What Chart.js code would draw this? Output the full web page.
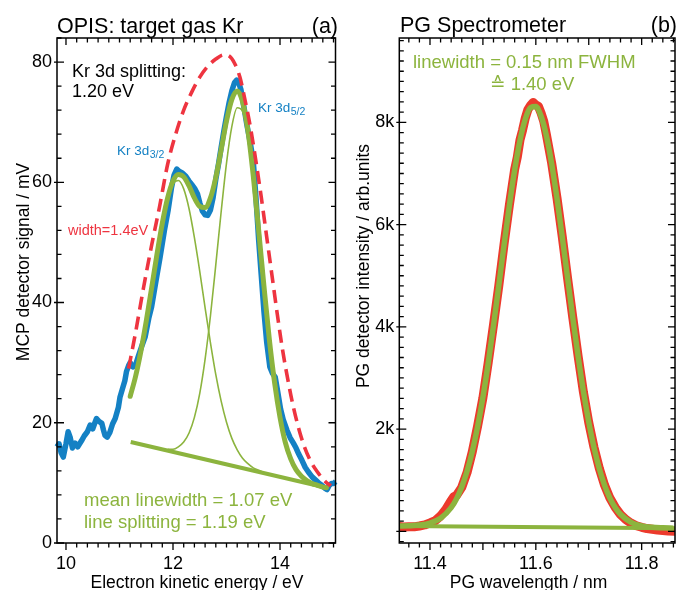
<!DOCTYPE html>
<html>
<head>
<meta charset="utf-8">
<script src="https://cdn.jsdelivr.net/npm/chart.js@4.4.1/dist/chart.umd.min.js"></script>
<style>
  html, body { margin: 0; padding: 0; background: #fff; }
  #wrap { position: relative; width: 677px; height: 590px; overflow: hidden; background: #fff; }
  canvas { position: absolute; top: 0; }
  #opis { left: 0; }
  #pg { left: 340px; }
</style>
</head>
<body>
<div id="wrap">
  <canvas id="opis" width="340" height="590"></canvas>
  <canvas id="pg" width="337" height="590"></canvas>
</div>
<script>
// ---------- (a) OPIS photoelectron spectrum of Kr 3d ----------
const opisEnergy = [9.83, 9.87, 9.91, 9.95, 10.0, 10.04, 10.08, 10.12, 10.17, 10.22, 10.29, 10.34, 10.4, 10.45,
  10.5, 10.54, 10.57, 10.62, 10.67, 10.7, 10.73, 10.77, 10.82, 10.87, 10.92, 10.98, 11.01, 11.05, 11.1, 11.13,
  11.17, 11.2, 11.25, 11.3, 11.35, 11.41, 11.48, 11.55, 11.6, 11.68, 11.76, 11.84, 11.91, 11.97, 12.02, 12.07,
  12.12, 12.18, 12.24, 12.3, 12.36, 12.41, 12.46, 12.5, 12.55, 12.6, 12.65, 12.7, 12.75, 12.8, 12.85, 12.9,
  12.95, 13.0, 13.05, 13.1, 13.15, 13.19, 13.23, 13.27, 13.32, 13.38, 13.44, 13.5, 13.55, 13.6, 13.65, 13.7,
  13.75, 13.81, 13.86, 13.91, 13.96, 14.01, 14.06, 14.13, 14.19, 14.25, 14.3, 14.35, 14.41, 14.47, 14.53,
  14.6, 14.66, 14.72, 14.78, 14.84, 14.88, 14.92, 14.96, 15.0, 15.04, 15.09];
const opisSignal = [16.0, 16.5, 15.0, 14.3, 16.5, 18.5, 17.5, 15.8, 16.6, 16.0, 17.0, 17.8, 18.5, 19.6,
  19.0, 20.0, 20.7, 20.2, 19.9, 18.8, 17.9, 17.6, 18.4, 19.8, 20.7, 22.6, 24.3, 25.5, 27.0, 28.5,
  29.5, 30.0, 29.3, 29.6, 31.0, 32.6, 34.3, 37.5, 39.3, 43.5, 47.6, 52.0, 55.4, 59.0, 61.2, 62.2,
  61.8, 61.5, 61.0, 60.2, 59.5, 58.9, 58.0, 56.6, 55.2, 54.6, 54.5, 55.4, 57.5, 60.5, 63.0, 65.8,
  68.5, 71.0, 73.3, 75.2, 76.6, 77.0, 76.5, 75.4, 72.8, 69.6, 66.8, 63.5, 57.5, 50.5, 44.5, 38.5,
  33.5, 29.3, 28.2, 27.6, 25.0, 22.3, 20.5, 18.75, 17.5, 16.6, 15.8, 14.8, 13.75, 12.6, 11.8,
  11.0, 10.5, 10.0, 9.6, 9.1, 8.9, 9.6, 9.9, 9.9, 10.2, 10.1];

// two-line fit: sum, the 3d3/2 and 3d5/2 components, linear background
const fitEnergy = [11.2, 11.3, 11.4, 11.5, 11.6, 11.7, 11.8, 11.9, 12.0, 12.1, 12.2, 12.3, 12.4, 12.5, 12.6,
  12.7, 12.8, 12.9, 13.0, 13.1, 13.2, 13.3, 13.4, 13.5, 13.6, 13.7, 13.8, 13.9, 14.0, 14.1, 14.2, 14.3,
  14.4, 14.5, 14.6, 14.7, 14.8, 14.87];
const fitSignal = [24.4, 27.7, 31.9, 36.9, 42.4, 48.0, 53.2, 57.4, 60.2, 61.3, 60.9, 59.4, 57.4, 56.0, 55.8,
  57.4, 60.8, 65.4, 70.2, 73.8, 75.2, 73.4, 68.6, 61.1, 52.1, 42.7, 33.9, 26.6, 20.9, 16.7, 14.0, 12.2,
  11.1, 10.4, 9.9, 9.6, 9.3, 9.2];
const d32Energy = [11.2, 11.3, 11.4, 11.5, 11.6, 11.7, 11.8, 11.9, 12.0, 12.1, 12.2, 12.3, 12.4, 12.5, 12.6,
  12.7, 12.8, 12.9, 13.0, 13.1, 13.2, 13.3, 13.4, 13.5, 13.6, 13.7, 13.8];
const d32Signal = [24.4, 27.7, 31.9, 36.9, 42.4, 48.0, 53.1, 57.2, 59.7, 60.3, 58.9, 55.6, 50.8, 45.2, 39.1,
  33.3, 28.0, 23.6, 20.1, 17.4, 15.5, 14.1, 13.2, 12.5, 12.1, 11.7, 11.4];
const d52Energy = [11.9, 12.0, 12.1, 12.2, 12.3, 12.4, 12.5, 12.6, 12.7, 12.8, 12.9, 13.0, 13.1, 13.2, 13.3,
  13.4, 13.5, 13.6, 13.7, 13.8, 13.9, 14.0, 14.1, 14.2, 14.3, 14.4, 14.5, 14.6, 14.7, 14.8];
const d52Signal = [15.6, 15.6, 16.0, 16.8, 18.3, 20.9, 24.9, 30.6, 37.8, 46.3, 55.1, 63.2, 69.3, 72.4, 71.8,
  67.6, 60.6, 51.8, 42.6, 33.9, 26.6, 20.9, 16.7, 14.0, 12.2, 11.1, 10.4, 9.9, 9.6, 9.3];
const bgEnergy = [11.21, 14.87];
const bgSignal = [16.8, 9.2];

// expected profile for a 1.4 eV photon bandwidth
const broadEnergy = [11.17, 11.3, 11.45, 11.6, 11.75, 11.9, 12.05, 12.2, 12.35, 12.5, 12.65, 12.8, 12.95,
  13.05, 13.15, 13.25, 13.35, 13.45, 13.55, 13.65, 13.75, 13.85, 13.95, 14.05, 14.15, 14.25, 14.4, 14.55,
  14.7, 14.85, 14.95];
const broadSignal = [29.0, 35.0, 42.5, 49.5, 56.0, 63.0, 68.0, 72.0, 75.0, 77.5, 79.3, 80.5, 81.2,
  81.0, 79.8, 77.5, 73.5, 69.0, 63.5, 57.5, 51.0, 44.5, 38.0, 32.0, 27.0, 22.6, 17.5, 14.0,
  11.8, 10.2, 9.5];

const opisXTicks = [10, 12, 14];
const opisYTicks = [0, 20, 40, 60, 80];

// ---------- (b) PG spectrometer ----------
const pgWavelength = [11.342, 11.35, 11.36, 11.37, 11.38, 11.39, 11.40, 11.41, 11.42, 11.43, 11.44, 11.445,
  11.45, 11.46, 11.47, 11.48, 11.49, 11.50, 11.51, 11.52, 11.53, 11.54, 11.55, 11.56, 11.565, 11.57, 11.575,
  11.58, 11.585, 11.59, 11.595, 11.60, 11.605, 11.61, 11.615, 11.62, 11.63, 11.64, 11.65, 11.66, 11.67,
  11.68, 11.69, 11.70, 11.71, 11.72, 11.73, 11.74, 11.75, 11.76, 11.77, 11.78, 11.79, 11.80, 11.81, 11.82,
  11.83, 11.84, 11.85, 11.863];
const pgIntensity = [95, 85, 92, 88, 105, 125, 165, 210, 300, 430, 600, 680,
  700, 860, 1150, 1560, 2060, 2610, 3300, 4040, 4800, 5620, 6380, 7080, 7320, 7650, 7850,
  8080, 8250, 8330, 8390, 8340, 8310, 8180, 8020, 7760, 7200, 6520, 5760, 4950, 4170,
  3420, 2720, 2130, 1640, 1230, 900, 650, 470, 330, 230, 160, 110, 80, 55, 40,
  25, 15, 5, 0];
const pgFitWl = [11.34, 11.36, 11.38, 11.40, 11.42, 11.44, 11.45, 11.46, 11.47, 11.48, 11.49, 11.50, 11.51,
  11.52, 11.53, 11.54, 11.55, 11.56, 11.57, 11.58, 11.59, 11.60, 11.61, 11.62, 11.63, 11.64, 11.65, 11.66,
  11.67, 11.68, 11.69, 11.70, 11.71, 11.72, 11.73, 11.74, 11.75, 11.76, 11.78, 11.80, 11.82, 11.84, 11.86];
const pgFit = [105, 110, 123, 160, 255, 463, 634, 867, 1174, 1566, 2049, 2622, 3288,
  4025, 4808, 5605, 6373, 7067, 7643, 8061, 8287, 8308, 8119, 7737, 7187, 6512, 5753, 4957,
  4167, 3417, 2735, 2140, 1637, 1225, 900, 651, 467, 334, 177, 107, 79, 68, 62];
const pgBgWl = [11.342, 11.863];
const pgBg = [105, 62];

const pgXTicks = [11.4, 11.6, 11.8];
const pgYTicks = [2000, 4000, 6000, 8000];

// ---------- styling ----------
const FONT = '"Liberation Sans", Arial, Helvetica, "DejaVu Sans", sans-serif';
const BLUE = '#1481c4';
const GREEN = '#8cb43e';
const RED = '#ee3440';
const RED_PG = '#ec3a2c';

Chart.defaults.font.family = FONT;
Chart.defaults.color = '#000';

const pts = (xs, ys) => xs.map((x, i) => ({ x, y: ys[i] }));

// box frame: bottom ticks hang outside, the other three sides point into the plot,
// major ticks on the left edge cross the axis line
const frameTicks = {
  id: 'frameTicks',
  afterDraw(chart, args, opts) {
    const { ctx, chartArea: a, scales: { x, y } } = chart;
    const near = (v, s) => Math.abs(v / s - Math.round(v / s)) < 1e-6;
    const each = (scale, minor, major, fn) => {
      const k0 = Math.ceil(scale.min / minor - 1e-6), k1 = Math.floor(scale.max / minor + 1e-6);
      for (let k = k0; k <= k1; k++) {
        const v = k * minor;
        fn(scale.getPixelForValue(v), near(v, major));
      }
    };
    ctx.save();
    ctx.strokeStyle = '#000';
    ctx.lineWidth = 1.3;
    ctx.beginPath();
    each(x, opts.xMinor, opts.xMajor, (p, big) => {
      const len = big ? opts.major : opts.minor;
      ctx.moveTo(p, a.bottom); ctx.lineTo(p, a.bottom + len);
      ctx.moveTo(p, a.top); ctx.lineTo(p, a.top + len);
    });
    each(y, opts.yMinor, opts.yMajor, (p, big) => {
      const len = big ? opts.major : opts.minor;
      ctx.moveTo(a.left - (big ? 3 : 0), p); ctx.lineTo(a.left + len, p);
      ctx.moveTo(a.right - len, p); ctx.lineTo(a.right, p);
    });
    ctx.stroke();
    ctx.lineWidth = 1.5;
    ctx.strokeRect(a.left, a.top, a.right - a.left, a.bottom - a.top);
    ctx.restore();
  }
};

// titles, axis names and annotations
const textLayer = {
  id: 'textLayer',
  afterDraw(chart, args, opts) {
    const ctx = chart.ctx;
    ctx.save();
    for (const it of opts.items) {
      ctx.save();
      ctx.fillStyle = it.color || '#000';
      ctx.font = `${it.size}px ${FONT}`;
      ctx.textBaseline = 'alphabetic';
      ctx.translate(it.x, it.y);
      if (it.rotate) ctx.rotate(-Math.PI / 2);
      ctx.textAlign = it.align || 'left';
      ctx.fillText(it.text, 0, 0);
      if (it.sub) {
        const w = ctx.measureText(it.text).width;
        ctx.font = `${it.size * 0.78}px ${FONT}`;
        ctx.textAlign = 'left';
        ctx.fillText(it.sub, w + 0.5, it.size * 0.25);
      }
      ctx.restore();
    }
    ctx.restore();
  }
};

function axis(min, max, ticks, fmt, fit, padding) {
  return {
    type: 'linear', min, max,
    grid: { display: false, drawTicks: false },
    border: { display: false },
    ticks: { font: { size: 18 }, color: '#000', padding, maxRotation: 0, autoSkip: false, callback: fmt },
    afterBuildTicks: s => { s.ticks = ticks.map(v => ({ value: v })); },
    afterFit: fit
  };
}

const common = {
  responsive: false,
  animation: false,
  devicePixelRatio: 1,
  events: [],
  elements: { point: { radius: 0 }, line: { fill: false, borderCapStyle: 'butt', borderJoinStyle: 'round' } }
};

new Chart(document.getElementById('opis'), {
  type: 'line',
  data: {
    datasets: [
      { data: pts(broadEnergy, broadSignal), borderColor: RED, borderWidth: 3.6, borderDash: [13, 7], cubicInterpolationMode: 'monotone' },
      { data: pts(d32Energy, d32Signal), borderColor: GREEN, borderWidth: 1.6, cubicInterpolationMode: 'monotone' },
      { data: pts(d52Energy, d52Signal), borderColor: GREEN, borderWidth: 1.6, cubicInterpolationMode: 'monotone' },
      { data: pts(fitEnergy, fitSignal), borderColor: GREEN, borderWidth: 5, borderCapStyle: 'round', cubicInterpolationMode: 'monotone' },
      { data: pts(bgEnergy, bgSignal), borderColor: GREEN, borderWidth: 4 },
      { data: pts(opisEnergy, opisSignal), borderColor: BLUE, borderWidth: 5.5, tension: 0, clip: false }
    ]
  },
  options: {
    ...common,
    layout: { padding: { top: 38, right: 4.5, left: 0, bottom: 0 } },
    plugins: {
      legend: { display: false },
      tooltip: { enabled: false },
      frameTicks: { xMinor: 0.2, xMajor: 2, yMinor: 4, yMajor: 20, major: 7, minor: 4.5 },
      textLayer: {
        items: [
          { text: 'OPIS: target gas Kr', x: 57, y: 33, size: 21.5 },
          { text: '(a)', x: 338, y: 33, size: 21.5, align: 'right' },
          { text: 'Kr 3d splitting:', x: 72, y: 77, size: 18 },
          { text: '1.20 eV', x: 72, y: 97, size: 18 },
          { text: 'Kr 3d', sub: '3/2', x: 117, y: 155, size: 13.5, color: BLUE },
          { text: 'Kr 3d', sub: '5/2', x: 258, y: 112, size: 13.5, color: BLUE },
          { text: 'width=1.4eV', x: 68, y: 235, size: 14.5, color: RED },
          { text: 'mean linewidth = 1.07 eV', x: 84, y: 506, size: 18.5, color: GREEN },
          { text: 'line splitting = 1.19 eV', x: 84, y: 528, size: 18.5, color: GREEN },
          { text: 'Electron kinetic energy / eV', x: 197, y: 588, size: 17.5, align: 'center' },
          { text: 'MCP detector signal / mV', x: 29, y: 262, size: 17.5, align: 'center', rotate: true }
        ]
      }
    },
    scales: {
      x: axis(9.832, 15.037, opisXTicks, v => String(v), s => { s.height = 47; }, 10),
      y: axis(0, 84, opisYTicks, v => String(v), s => { s.width = 57; }, 5)
    }
  },
  plugins: [frameTicks, textLayer]
});

new Chart(document.getElementById('pg'), {
  type: 'line',
  data: {
    datasets: [
      { data: pts(pgFitWl, pgFit), borderColor: GREEN, borderWidth: 5.5, cubicInterpolationMode: 'monotone' },
      { data: pts(pgBgWl, pgBg), borderColor: GREEN, borderWidth: 4 },
      { data: pts(pgWavelength, pgIntensity), borderColor: RED_PG, borderWidth: 9, tension: 0 }
    ]
  },
  options: {
    ...common,
    layout: { padding: { top: 38, right: 2, left: 0, bottom: 0 } },
    plugins: {
      legend: { display: false },
      tooltip: { enabled: false },
      frameTicks: { xMinor: 0.02, xMajor: 0.1, yMinor: 200, yMajor: 2000, major: 7, minor: 4.5 },
      textLayer: {
        items: [
          { text: 'PG Spectrometer', x: 60, y: 32, size: 21.5 },
          { text: '(b)', x: 337, y: 32, size: 21.5, align: 'right' },
          { text: 'linewidth = 0.15 nm FWHM', x: 73, y: 68, size: 18.5, color: GREEN },
          { text: '\u2259 1.40 eV', x: 150, y: 90, size: 18.5, color: GREEN },
          { text: 'PG wavelength / nm', x: 188.5, y: 588, size: 17.5, align: 'center' },
          { text: 'PG detector intensity / arb.units', x: 29, y: 266, size: 17.5, align: 'center', rotate: true }
        ]
      }
    },
    scales: {
      x: axis(11.342, 11.863, pgXTicks, v => v.toFixed(1), s => { s.height = 47; }, 10),
      y: axis(-228, 9650, pgYTicks, v => (v / 1000) + 'k', s => { s.width = 59.3; }, 5)
    }
  },
  plugins: [frameTicks, textLayer]
});
</script>
</body>
</html>
